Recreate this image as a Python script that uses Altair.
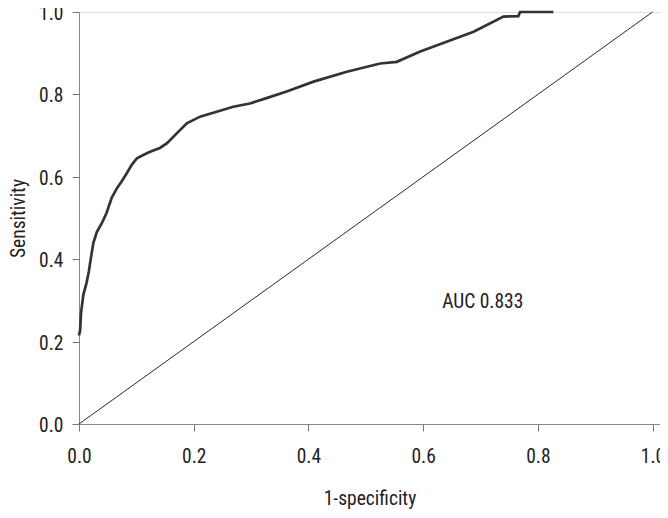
import altair as alt
import pandas as pd

# ROC curve points
fpr = [0.0, 0.002, 0.0035, 0.0075, 0.013, 0.017, 0.021, 0.025, 0.031, 0.040, 0.048,
       0.057, 0.066, 0.074, 0.083, 0.092, 0.101, 0.112, 0.124, 0.141, 0.153, 0.173,
       0.188, 0.211, 0.240, 0.269, 0.298, 0.327, 0.362, 0.409, 0.467, 0.525, 0.554,
       0.595, 0.641, 0.688, 0.740, 0.766, 0.769, 0.827]
tpr = [0.215, 0.228, 0.269, 0.313, 0.342, 0.369, 0.405, 0.439, 0.466, 0.488, 0.512,
       0.549, 0.572, 0.588, 0.608, 0.629, 0.645, 0.653, 0.661, 0.670, 0.681, 0.709,
       0.730, 0.746, 0.758, 0.770, 0.778, 0.791, 0.807, 0.831, 0.855, 0.875, 0.879,
       0.904, 0.928, 0.952, 0.989, 0.990, 1.0, 1.0]

diag_x = [0.0, 1.0]
diag_y = [0.0, 1.0]

tick_vals = [0.0, 0.2, 0.4, 0.6, 0.8, 1.0]
auc_label = "AUC 0.833"
auc_pos = (0.704, 0.297)

FONT = "Roboto Condensed, Liberation Sans Narrow, DejaVu Sans Condensed, Roboto"
FS = 19.5

roc = pd.DataFrame({"x": fpr, "y": tpr, "o": list(range(len(fpr)))})
diag = pd.DataFrame({"x": diag_x, "y": diag_y})
lab = pd.DataFrame({"x": [auc_pos[0]], "y": [auc_pos[1]], "t": [auc_label]})

xscale = alt.Scale(domain=[0, 1.013], nice=False, zero=False)
yscale = alt.Scale(domain=[0, 1], nice=False)

xaxis = alt.Axis(title="1-specificity", values=tick_vals, format=".1f", grid=False,
                 ticks=True, tickSize=7, tickWidth=1, labelPadding=16, labelFlush=False,
                 domainColor="#888", tickColor="#777",
                 labelFont=FONT, labelFontSize=FS, labelColor="#222",
                 titleFont=FONT, titleFontSize=FS, titleFontWeight="normal", titleColor="#222",
                 titleY=74, titleBaseline="middle")
yaxis = alt.Axis(title="Sensitivity", values=tick_vals, format=".1f", grid=False,
                 ticks=True, tickSize=7, tickWidth=1, labelPadding=9, labelFlush=False,
                 labelOffset=1.5,
                 domainColor="#888", tickColor="#777",
                 labelFont=FONT, labelFontSize=FS, labelColor="#222",
                 titleFont=FONT, titleFontSize=FS, titleFontWeight="normal", titleColor="#222",
                 titleX=-61, titleY=206, titleAngle=-90, titleAlign="center",
                 titleBaseline="middle")

base_diag = alt.Chart(diag).mark_line(color="#111", strokeWidth=0.9).encode(
    x=alt.X("x:Q", scale=xscale, axis=xaxis),
    y=alt.Y("y:Q", scale=yscale, axis=yaxis),
)

curve = alt.Chart(roc).mark_line(color="#333", strokeWidth=2.7).encode(
    x=alt.X("x:Q", scale=xscale),
    y=alt.Y("y:Q", scale=yscale),
    order="o:Q",
)

txt = alt.Chart(lab).mark_text(font=FONT, fontSize=FS, color="#222", align="center",
                               baseline="middle").encode(
    x=alt.X("x:Q", scale=xscale),
    y=alt.Y("y:Q", scale=yscale),
    text="t:N",
)

chart = alt.layer(base_diag, curve, txt).properties(
    width=581, height=412,
    autosize=alt.AutoSizeParams(type="none"),
    padding={"left": 71, "top": 4, "right": 0, "bottom": 86},
).configure_view(stroke="#888", strokeWidth=1).configure(background="white")

chart.save("out.html", embed_options={"renderer": "svg", "actions": False})
